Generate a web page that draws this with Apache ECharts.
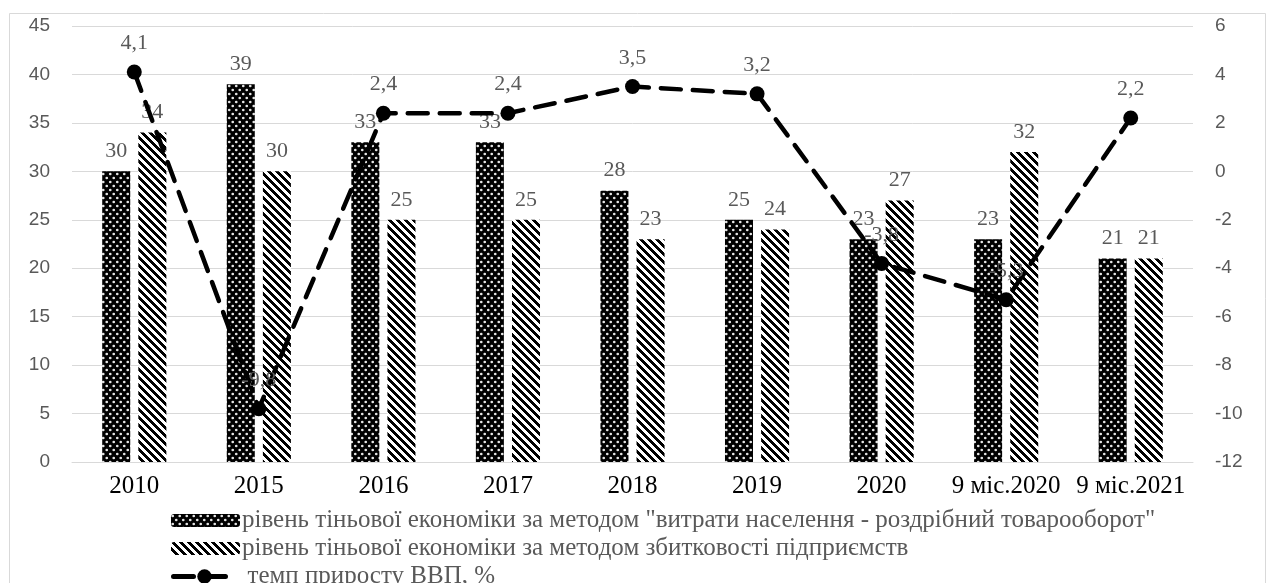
<!DOCTYPE html>
<html>
<head>
<meta charset="utf-8">
<script src="https://cdn.jsdelivr.net/npm/echarts@6/dist/echarts.min.js"></script>
<style>
html,body{margin:0;padding:0;background:#fff;}
#chart{width:1269px;height:583px;}
</style>
</head>
<body>
<div id="chart"></div>
<script>
const categories = ['2010','2015','2016','2017','2018','2019','2020','9 міс.2020','9 міс.2021'];
const retailMethod = [30,39,33,33,28,25,23,23,21];
const lossMethod = [34,30,25,25,23,24,27,32,21];
const gdpGrowth = [4.1,-9.8,2.4,2.4,3.5,3.2,-3.8,-5.3,2.2];
const seriesNames = [
  'рівень тіньової економіки за методом "витрати населення - роздрібний товарооборот"',
  'рівень тіньової економіки за методом збитковості підприємств',
  'темп приросту ВВП, %'
];
const leftTicks = {min:0, max:45, interval:5};
const rightTicks = {min:-12, max:6, interval:2};

function dotPattern(){
  const c = document.createElement('canvas');
  c.width = 7; c.height = 8;
  const g = c.getContext('2d');
  g.fillStyle = '#000'; g.fillRect(0,0,7,8);
  g.fillStyle = '#e6e6e6';
  g.beginPath(); g.arc(1.75,2,1.35,0,Math.PI*2); g.fill();
  g.beginPath(); g.arc(5.25,6,1.35,0,Math.PI*2); g.fill();
  return c;
}
function stripePattern(){
  const n = 8;
  const c = document.createElement('canvas');
  c.width = n; c.height = n;
  const g = c.getContext('2d');
  const img = g.createImageData(n,n);
  for(let y=0;y<n;y++){
    for(let x=0;x<n;x++){
      const k = ((x - y) % n + n) % n;
      const v = k < 4 ? 0 : 255;
      const i = (y*n+x)*4;
      img.data[i]=v; img.data[i+1]=v; img.data[i+2]=v; img.data[i+3]=255;
    }
  }
  g.putImageData(img,0,0);
  return c;
}

const serif = '"Liberation Serif","Times New Roman",serif';
const sans = '"Liberation Sans","DejaVu Sans",sans-serif';
const labelColor = '#595959';
const fmt = v => String(v).replace('.', ',');

const legendTops = [503, 531, 559];
const legends = seriesNames.map((n, i) => ({
  orient:'vertical', left:166, top:legendTops[i],
  itemWidth: i === 2 ? 62 : 69, itemHeight: i === 2 ? 18 : 13,
  lineStyle: {width:5},
  textStyle:{fontFamily:serif, fontSize:25, color:labelColor, padding: i === 2 ? [0,0,0,7] : [0,0,0,-3]},
  data:[n]
}));

const chart = echarts.init(document.getElementById('chart'));
chart.setOption({
  animation:false,
  backgroundColor:'#fff',
  graphic:[{
    type:'rect', left:7, top:11, z:-10,
    shape:{width:1256, height:580},
    style:{fill:'none', stroke:'#d9d9d9', lineWidth:1}
  }],
  grid:{left:72, right:76, top:26, bottom:121},
  legend:legends,
  xAxis:{
    type:'category', data:categories,
    axisTick:{show:false},
    axisLine:{lineStyle:{color:'#d9d9d9', width:1}},
    axisLabel:{fontFamily:serif, fontSize:25, color:'#000', margin:12, interval:0}
  },
  yAxis:[{
    type:'value', min:leftTicks.min, max:leftTicks.max, interval:leftTicks.interval,
    axisLine:{show:false}, axisTick:{show:false},
    splitLine:{lineStyle:{color:'#d9d9d9', width:1}},
    axisLabel:{fontFamily:sans, fontSize:19, color:labelColor, margin:22}
  },{
    type:'value', min:rightTicks.min, max:rightTicks.max, interval:rightTicks.interval,
    axisLine:{show:false}, axisTick:{show:false},
    splitLine:{show:false},
    axisLabel:{fontFamily:sans, fontSize:19, color:labelColor, margin:22}
  }],
  series:[{
    name:seriesNames[0], type:'bar', data:retailMethod,
    barWidth:28, barGap:'29%',
    itemStyle:{color:{image:dotPattern(), repeat:'repeat'}},
    label:{show:true, position:'top', distance:9, fontFamily:serif, fontSize:22, color:labelColor}
  },{
    name:seriesNames[1], type:'bar', data:lossMethod,
    barWidth:28,
    itemStyle:{color:{image:stripePattern(), repeat:'repeat'}},
    label:{show:true, position:'top', distance:9, fontFamily:serif, fontSize:22, color:labelColor}
  },{
    name:seriesNames[2], type:'line', yAxisIndex:1, data:gdpGrowth,
    symbol:'circle', symbolSize:15,
    itemStyle:{color:'#000'},
    lineStyle:{color:'#000', width:4.5, type:[20,12], cap:'round'},
    label:{show:true, position:'top', distance:10, fontFamily:serif, fontSize:22, color:labelColor,
      formatter:p => fmt(p.value)},
    z:5
  }]
});
</script>
</body>
</html>
